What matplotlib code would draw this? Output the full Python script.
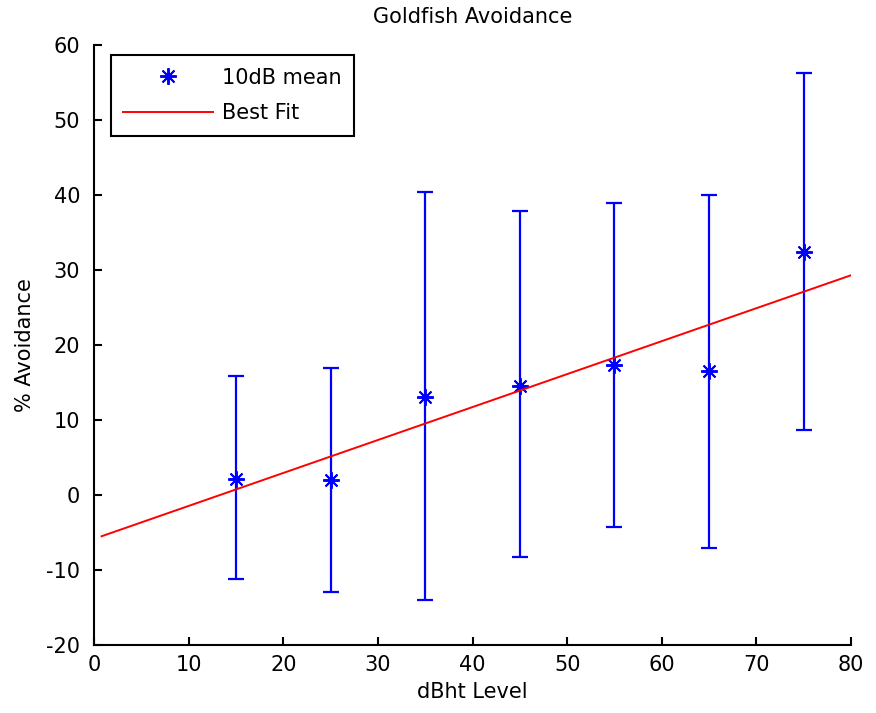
import numpy as np
import matplotlib
matplotlib.use("Agg")
import matplotlib.pyplot as plt

# dBht levels and mean % avoidance
levels = [15, 25, 35, 45, 55, 65, 75]
mean_avoid = [2.2, 2.0, 13.1, 14.5, 17.3, 16.5, 32.4]
err_low = [13.4, 14.9, 27.1, 22.8, 21.6, 23.6, 23.7]
err_high = [13.7, 14.9, 27.3, 23.4, 21.6, 23.5, 23.9]

# best fit line end points
fit_x = [0.8, 80]
fit_y = [-5.5, 29.3]

plt.rcParams['font.family'] = ['DejaVu Sans']
plt.rcParams['font.size'] = 15
plt.rcParams['axes.unicode_minus'] = False

fig = plt.figure(figsize=(8.76, 7.13), dpi=100)
ax0 = fig.add_axes([94/876, 68/713, 757/876, 600/713])

ax0.errorbar(levels, mean_avoid, yerr=[err_low, err_high], fmt='none',
             ecolor='blue', elinewidth=1.6, capsize=6, capthick=1.6)
# asterisk marker, like matlab's '*'
ax0.plot(levels, mean_avoid, linestyle='none', marker=(8, 2, 0),
         color='blue', markersize=12, markeredgewidth=1.4,
         label='10dB mean')
ax0.plot(fit_x, fit_y, '-', color='red', lw=1.4, label='Best Fit')

ax0.set_xlim(0, 80)
ax0.set_ylim(-20, 60)
ax0.set_xticks(np.arange(0, 81, 10))
ax0.set_yticks(np.arange(-20, 61, 10))
ax0.spines['top'].set_visible(False)
ax0.spines['right'].set_visible(False)
ax0.spines['left'].set_linewidth(1.5)
ax0.spines['bottom'].set_linewidth(1.5)
ax0.tick_params(direction='in', length=6, width=1.5, labelsize=15)
ax0.tick_params(axis='y', pad=10)
ax0.tick_params(axis='x', pad=7)

ax0.set_title('Goldfish Avoidance', fontsize=15, pad=16)
ax0.set_xlabel('dBht Level', fontsize=15, labelpad=5)
ax0.set_ylabel('% Avoidance', fontsize=15, labelpad=8)

leg = ax0.legend(loc='upper left', bbox_to_anchor=(0.022, 0.983),
                 fancybox=False, edgecolor='black', framealpha=1,
                 handlelength=4.3, handletextpad=0.45, labelspacing=0.75,
                 borderpad=0.6, borderaxespad=0, fontsize=15)
leg.get_frame().set_linewidth(1.5)

fig.savefig('out.png', dpi=100)
